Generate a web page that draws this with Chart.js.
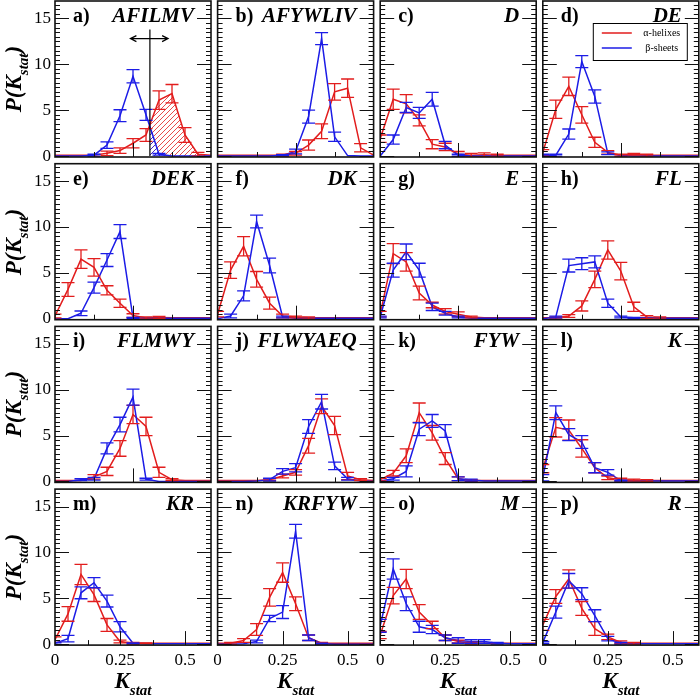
<!DOCTYPE html>
<html>
<head>
<meta charset="utf-8">
<script src="https://cdn.jsdelivr.net/npm/chart.js@4.4.0/dist/chart.umd.min.js"></script>
<style>
  html, body { margin: 0; padding: 0; background: #fff; }
  #wrap { position: relative; width: 700px; height: 695px; overflow: hidden; }
  #wrap canvas { position: absolute; left: 0; top: 0; }
  .ttl { position: absolute; font-family: "Times New Roman", "Liberation Serif", Times, serif; font-weight: bold; font-style: italic;
         font-size: 23px; white-space: nowrap; color: #000; line-height: 1; }
  .ttl span { font-size: 15px; position: relative; top: 7px; }
</style>
</head>
<body>
<div id="wrap"></div>
<script>
// K_stat bins
const kValues = [0, 0.05, 0.1, 0.15, 0.2, 0.25, 0.3, 0.35, 0.4, 0.45, 0.5, 0.55, 0.6];

const panelLetters = ["a)", "b)", "c)", "d)", "e)", "f)", "g)", "h)", "i)", "j)", "k)", "l)", "m)", "n)", "o)", "p)"];
const panelNames = ["AFILMV", "AFYWLIV", "D", "DE", "DEK", "DK", "E", "FL",
                    "FLMWY", "FLWYAEQ", "FYW", "K", "KR", "KRFYW", "M", "R"];

// alpha-helixes, one row per panel (a..p)
const helixVals = [
  [0.1, 0.1, 0.1, 0.1, 0.3, 0.6, 1.4, 2.3, 6.1, 6.8, 2.3, 0.2, 0.1],
  [0.1, 0.1, 0.1, 0.1, 0.1, 0.1, 0.3, 1.2, 2.7, 7.0, 7.4, 0.9, 0.1],
  [1.9, 6.2, 5.7, 3.9, 1.3, 1.0, 0.2, 0.1, 0.15, 0.1, 0.1, 0.1, 0.1],
  [0.4, 5.1, 7.6, 4.5, 1.5, 0.4, 0.1, 0.2, 0.1, 0.1, 0.1, 0.1, 0.1],
  [0.3, 3.2, 6.5, 5.6, 3.1, 1.7, 0.35, 0.1, 0.15, 0.1, 0.1, 0.1, 0.1],
  [0.5, 5.3, 7.9, 4.3, 1.7, 0.3, 0.2, 0.1, 0.1, 0.1, 0.1, 0.1, 0.1],
  [0.5, 7.1, 6.2, 2.8, 1.5, 0.8, 0.5, 0.2, 0.1, 0.1, 0.1, 0.1, 0.1],
  [0.1, 0.1, 0.3, 1.4, 4.3, 7.5, 5.2, 1.3, 0.2, 0.1, 0.1, 0.1, 0.1],
  [0.1, 0.1, 0.1, 0.5, 1.1, 3.6, 7.3, 6.0, 1.0, 0.2, 0.1, 0.1, 0.1],
  [0.1, 0.1, 0.1, 0.1, 0.2, 0.6, 1.0, 3.9, 8.2, 6.1, 0.6, 0.2, 0.1],
  [0.2, 0.9, 2.8, 7.5, 5.3, 2.5, 0.3, 0.1, 0.1, 0.1, 0.1, 0.1, 0.1],
  [1.4, 5.9, 5.6, 3.6, 1.5, 0.4, 0.2, 0.15, 0.1, 0.1, 0.1, 0.1, 0.1],
  [0.5, 3.3, 7.6, 5.4, 2.1, 0.3, 0.1, 0.1, 0.1, 0.1, 0.1, 0.1, 0.1],
  [0.1, 0.1, 0.4, 1.6, 5.1, 7.8, 4.4, 0.7, 0.1, 0.1, 0.1, 0.1, 0.1],
  [1.0, 5.3, 7.1, 3.5, 2.1, 0.7, 0.3, 0.1, 0.1, 0.1, 0.1, 0.1, 0.1],
  [2.1, 5.2, 7.1, 3.9, 1.7, 0.8, 0.2, 0.1, 0.1, 0.1, 0.1, 0.1, 0.1]
];
const helixErr = [
  [0, 0, 0, 0, 0.25, 0.3, 0.5, 0.7, 1.0, 1.0, 0.8, 0.2, 0],
  [0, 0, 0, 0, 0, 0.1, 0.2, 0.55, 0.8, 0.9, 1.0, 0.45, 0],
  [0.4, 1.1, 1.0, 0.6, 0.5, 0.4, 0.3, 0.2, 0.2, 0.1, 0, 0, 0],
  [0.3, 1.0, 1.0, 0.9, 0.55, 0.2, 0.1, 0.1, 0.1, 0, 0, 0, 0],
  [0.2, 0.75, 1.0, 0.95, 0.5, 0.45, 0.2, 0.1, 0.1, 0, 0, 0, 0],
  [0.3, 0.9, 1.05, 0.85, 0.65, 0.2, 0.1, 0.1, 0, 0, 0, 0, 0],
  [0.3, 1.1, 1.0, 0.75, 0.3, 0.3, 0.25, 0.1, 0, 0, 0, 0, 0],
  [0, 0.1, 0.15, 0.55, 0.9, 1.0, 0.95, 0.5, 0.15, 0.1, 0, 0, 0],
  [0, 0, 0, 0.25, 0.45, 0.85, 1.0, 1.0, 0.55, 0.1, 0, 0, 0],
  [0, 0, 0, 0, 0.1, 0.2, 0.3, 0.8, 0.8, 1.0, 0.4, 0.1, 0],
  [0.15, 0.3, 0.75, 1.05, 0.8, 0.65, 0.2, 0.1, 0, 0, 0, 0, 0],
  [0.45, 1.05, 1.1, 0.95, 0.55, 0.2, 0.15, 0.1, 0.1, 0, 0, 0, 0],
  [0.3, 0.8, 1.1, 0.75, 0.7, 0.15, 0.1, 0.05, 0, 0, 0, 0, 0],
  [0, 0.1, 0.2, 0.65, 0.95, 1.05, 0.75, 0.3, 0.1, 0, 0, 0, 0],
  [0.4, 0.9, 1.05, 0.8, 0.4, 0.3, 0.15, 0.1, 0, 0, 0, 0, 0],
  [0.6, 0.75, 1.0, 0.75, 0.75, 0.3, 0.15, 0.1, 0, 0, 0, 0, 0]
];

// beta-sheets, one row per panel (a..p)
const sheetVals = [
  [0, 0, 0, 0.1, 1.2, 4.4, 8.7, 4.5, 0.2, 0, 0, 0, 0],
  [0, 0, 0, 0, 0, 0.1, 0.5, 4.3, 12.8, 2.1, 0.05, 0, 0],
  [0, 1.8, 5.3, 4.7, 6.2, 1.2, 0.1, 0, 0, 0, 0, 0, 0],
  [0.1, 0.1, 2.4, 10.3, 6.5, 0.3, 0.05, 0, 0, 0, 0, 0, 0],
  [0, 0, 0.6, 3.4, 6.4, 9.5, 0.1, 0.05, 0.05, 0.05, 0.05, 0.05, 0.05],
  [0, 0.3, 2.5, 10.6, 5.8, 0.2, 0.05, 0.05, 0.05, 0.05, 0.05, 0.05, 0.05],
  [0.2, 5.3, 7.3, 5.3, 1.3, 0.6, 0.2, 0.05, 0.05, 0.05, 0.05, 0.05, 0.05],
  [0, 0.2, 5.8, 6.0, 6.2, 1.7, 0.2, 0.1, 0.1, 0.05, 0.05, 0.05, 0.05],
  [0, 0, 0.2, 0.3, 3.6, 6.2, 9.2, 0.25, 0, 0, 0, 0, 0],
  [0, 0, 0, 0.05, 0.2, 1.1, 1.5, 6.0, 8.7, 1.7, 0.3, 0.05, 0],
  [0.05, 0.3, 1.1, 5.7, 6.6, 5.5, 0.3, 0.15, 0.05, 0.05, 0.05, 0.05, 0.05],
  [0.4, 7.5, 5.1, 4.3, 1.5, 1.0, 0.1, 0.05, 0.05, 0.05, 0.05, 0.05, 0.05],
  [0.1, 0.6, 5.6, 6.7, 4.7, 1.9, 0.1, 0.05, 0.05, 0.05, 0.05, 0.05, 0.05],
  [0, 0, 0.05, 0.3, 2.8, 3.5, 12.3, 0.7, 0.05, 0, 0, 0, 0],
  [2.0, 8.2, 4.4, 1.9, 1.6, 0.7, 0.4, 0.3, 0.3, 0.1, 0.05, 0.05, 0.05],
  [0.2, 3.5, 6.9, 5.5, 3.1, 0.6, 0.1, 0.05, 0.05, 0.05, 0.05, 0.05, 0.05]
];
const sheetErr = [
  [0, 0, 0, 0.1, 0.35, 0.65, 0.72, 0.6, 0.1, 0, 0, 0, 0],
  [0, 0, 0, 0, 0, 0.05, 0.25, 0.7, 0.65, 0.5, 0, 0, 0],
  [0, 0.5, 0.55, 0.6, 0.75, 0.4, 0.1, 0, 0, 0, 0, 0, 0],
  [0.1, 0.1, 0.55, 0.65, 0.72, 0.15, 0, 0, 0, 0, 0, 0, 0],
  [0, 0, 0.25, 0.6, 0.7, 0.75, 0.05, 0, 0, 0, 0, 0, 0],
  [0, 0.2, 0.55, 0.7, 0.8, 0.1, 0, 0, 0, 0, 0, 0, 0],
  [0.1, 0.75, 0.85, 0.75, 0.4, 0.2, 0.1, 0, 0, 0, 0, 0, 0],
  [0, 0.1, 0.7, 0.65, 0.65, 0.45, 0.1, 0.05, 0, 0, 0, 0, 0],
  [0, 0, 0.1, 0.15, 0.6, 0.8, 0.87, 0.1, 0, 0, 0, 0, 0],
  [0, 0, 0, 0, 0.15, 0.3, 0.45, 0.75, 0.8, 0.4, 0.15, 0, 0],
  [0, 0.15, 0.6, 0.7, 0.7, 0.7, 0.2, 0.1, 0, 0, 0, 0, 0],
  [0.35, 0.75, 0.65, 0.7, 0.55, 0.3, 0.05, 0, 0, 0, 0, 0, 0],
  [0.1, 0.35, 0.65, 0.55, 0.65, 0.55, 0.05, 0, 0, 0, 0, 0, 0],
  [0, 0, 0, 0.15, 0.35, 0.7, 0.75, 0.3, 0.05, 0, 0, 0, 0],
  [0.7, 1.1, 0.75, 0.6, 0.45, 0.3, 0.3, 0.2, 0.2, 0.1, 0, 0, 0],
  [0.1, 0.65, 0.8, 0.65, 0.65, 0.25, 0.1, 0, 0, 0, 0, 0, 0]
];

// axes
const yTickLabels = [0, 5, 10, 15];
const xTickLabels = [0, 0.25, 0.5];           // bottom row only
const xTicksUpper = [0.15, 0.3, 0.45];         // rows 1-3
const xMajorUpper = [0.3];
const xTicksLower = [0.125, 0.25, 0.375, 0.5]; // bottom row
const xMajorLower = [0.25, 0.5];

// panel a) marker
const cutK = 0.365, cutTop = 13.8, arrowY = 12.8, arrowFrom = 0.29, arrowTo = 0.435;

const RED = "#e21d1d";
const BLUE = "#1c1ce6";
const W = 700, H = 695;
const PW = 156, PH = 156;
const colX = c => 55 + c * 162.6;
const rowY = r => 1 + r * 162.7;
const SERIF = "\"Times New Roman\", \"Liberation Serif\", Times, serif";

function hatch(ctx, color) {
  const c = document.createElement("canvas");
  c.width = 5; c.height = 5;
  const g = c.getContext("2d");
  g.strokeStyle = color; g.lineWidth = 0.8;
  g.beginPath();
  g.moveTo(0, 5); g.lineTo(5, 0);
  g.moveTo(-1, 1); g.lineTo(1, -1);
  g.moveTo(4, 6); g.lineTo(6, 4);
  g.stroke();
  return ctx.createPattern(c, "repeat");
}

const shading = {
  id: "shading",
  beforeDatasetsDraw(chart, args, opts) {
    if (!opts.on) return;
    const { ctx, chartArea: ca, scales: { x, y } } = chart;
    const cut = x.getPixelForValue(cutK), base = y.getPixelForValue(0);
    ctx.save();
    ctx.beginPath();
    ctx.rect(cut, ca.top, ca.right - cut, ca.bottom - ca.top);
    ctx.clip();
    chart.data.datasets.forEach((ds, i) => {
      const pts = chart.getDatasetMeta(i).data;
      ctx.beginPath();
      ctx.moveTo(pts[0].x, base);
      pts.forEach(p => ctx.lineTo(p.x, p.y));
      ctx.lineTo(pts[pts.length - 1].x, base);
      ctx.closePath();
      ctx.fillStyle = hatch(ctx, ds.borderColor);
      ctx.fill();
    });
    ctx.restore();
  },
  afterDraw(chart, args, opts) {
    if (!opts.on) return;
    const { ctx, scales: { x, y } } = chart;
    const cx = x.getPixelForValue(cutK);
    const ay = y.getPixelForValue(arrowY);
    const x1 = x.getPixelForValue(arrowFrom), x2 = x.getPixelForValue(arrowTo);
    ctx.save();
    ctx.strokeStyle = "#000"; ctx.lineWidth = 1.2;
    ctx.beginPath();
    ctx.moveTo(cx, y.getPixelForValue(0));
    ctx.lineTo(cx, y.getPixelForValue(cutTop));
    ctx.moveTo(x1, ay); ctx.lineTo(x2, ay);
    ctx.moveTo(x1 + 6, ay - 3); ctx.lineTo(x1, ay); ctx.lineTo(x1 + 6, ay + 3);
    ctx.moveTo(x2 - 6, ay - 3); ctx.lineTo(x2, ay); ctx.lineTo(x2 - 6, ay + 3);
    ctx.stroke();
    ctx.restore();
  }
};

const errorBars = {
  id: "errorBars",
  afterDatasetsDraw(chart) {
    const { ctx, chartArea: ca, scales: { y } } = chart;
    ctx.save();
    ctx.beginPath();
    ctx.rect(ca.left, ca.top, ca.right - ca.left, ca.bottom - ca.top);
    ctx.clip();
    ctx.lineWidth = 1.3;
    chart.data.datasets.forEach((ds, i) => {
      ctx.strokeStyle = ds.borderColor;
      chart.getDatasetMeta(i).data.forEach((pt, j) => {
        const e = ds.errors[j];
        if (!e) return;
        const v = ds.data[j].y;
        const t = y.getPixelForValue(v + e), b = y.getPixelForValue(v - e);
        ctx.beginPath();
        ctx.moveTo(pt.x, t); ctx.lineTo(pt.x, b);
        ctx.moveTo(pt.x - 6.5, t); ctx.lineTo(pt.x + 6.5, t);
        ctx.moveTo(pt.x - 6.5, b); ctx.lineTo(pt.x + 6.5, b);
        ctx.stroke();
      });
    });
    ctx.restore();
  }
};

const frame = {
  id: "frame",
  afterDraw(chart, args, o) {
    const { ctx, chartArea: ca, scales: { x, y } } = chart;
    ctx.save();
    ctx.strokeStyle = "#111";
    ctx.lineWidth = 1;
    ctx.beginPath();
    for (let v = 0; v <= 16.5; v += 0.5) {
      const py = Math.round(y.getPixelForValue(v)) + 0.5;
      const len = v % 5 === 0 ? 14 : 5;
      ctx.moveTo(ca.left, py); ctx.lineTo(ca.left + len, py);
      ctx.moveTo(ca.right, py); ctx.lineTo(ca.right - len, py);
    }
    const ticks = o.bottom ? xTicksLower : xTicksUpper;
    const majors = o.bottom ? xMajorLower : xMajorUpper;
    ticks.forEach(t => {
      const px = Math.round(x.getPixelForValue(t)) + 0.5;
      ctx.moveTo(px, ca.bottom);
      ctx.lineTo(px, ca.bottom - (majors.includes(t) ? 14 : 5));
    });
    ctx.stroke();
    ctx.lineWidth = 1.6;
    ctx.strokeRect(ca.left, ca.top, ca.right - ca.left, ca.bottom - ca.top);

    ctx.fillStyle = "#000";
    if (o.left) {
      ctx.font = "17px " + SERIF;
      ctx.textAlign = "right"; ctx.textBaseline = "middle";
      yTickLabels.forEach(v => ctx.fillText(String(v), ca.left - 4, y.getPixelForValue(v)));
    }
    if (o.bottom) {
      ctx.font = "17px " + SERIF;
      ctx.textAlign = "center"; ctx.textBaseline = "middle";
      xTickLabels.forEach(v => ctx.fillText(String(v), x.getPixelForValue(v), ca.bottom + 15));
    }

    if (o.legend) {
      const bx = ca.left + 50, by = ca.top + 22, bw = 94, bh = 37;
      ctx.fillStyle = "#fff";
      ctx.fillRect(bx, by, bw, bh);
      ctx.lineWidth = 1;
      ctx.strokeStyle = "#000";
      ctx.strokeRect(bx + 0.5, by + 0.5, bw, bh);
      ctx.font = "10px " + SERIF;
      ctx.textAlign = "center"; ctx.textBaseline = "middle";
      chart.data.datasets.forEach((ds, i) => {
        const ly = by + 10 + i * 15;
        ctx.strokeStyle = ds.borderColor; ctx.lineWidth = 1.5;
        ctx.beginPath(); ctx.moveTo(bx + 9, ly); ctx.lineTo(bx + 39, ly); ctx.stroke();
        ctx.fillStyle = "#000";
        ctx.fillText(ds.label, bx + 69, ly);
      });
    }

    ctx.fillStyle = "#000";
    ctx.textBaseline = "alphabetic";
    ctx.textAlign = "left";
    ctx.font = "bold 20px " + SERIF;
    ctx.fillText(o.letter, ca.left + 18, ca.top + 21);
    ctx.textAlign = "right";
    ctx.font = "italic bold 21px " + SERIF;
    ctx.fillText(o.name, ca.right - 17, ca.top + 21);
    ctx.restore();
  }
};

const wrap = document.getElementById("wrap");

panelNames.forEach((name, p) => {
  const r = Math.floor(p / 4), c = p % 4;
  const x0 = colX(c), y0 = rowY(r);
  const cv = document.createElement("canvas");
  cv.width = W; cv.height = H;
  wrap.appendChild(cv);
  new Chart(cv, {
    type: "line",
    data: {
      datasets: [
        { label: "α-helixes", data: kValues.map((k, i) => ({ x: k, y: helixVals[p][i] })),
          errors: helixErr[p], borderColor: RED, borderWidth: 1.5, pointRadius: 0, order: 1 },
        { label: "β-sheets", data: kValues.map((k, i) => ({ x: k, y: sheetVals[p][i] })),
          errors: sheetErr[p], borderColor: BLUE, borderWidth: 1.5, pointRadius: 0, order: 0 }
      ]
    },
    options: {
      responsive: false,
      animation: false,
      events: [],
      layout: { padding: { left: x0, top: y0, right: W - x0 - PW, bottom: H - y0 - PH } },
      scales: {
        x: { type: "linear", min: 0, max: 0.6, display: false },
        y: { type: "linear", min: -0.1, max: 16.9, display: false }
      },
      plugins: {
        legend: { display: false },
        tooltip: { enabled: false },
        shading: { on: p === 0 },
        frame: { left: c === 0, bottom: r === 3, letter: panelLetters[p], name: name, legend: p === 3 }
      }
    },
    plugins: [shading, errorBars, frame]
  });
});

// axis titles
for (let r = 0; r < 4; r++) {
  const d = document.createElement("div");
  d.className = "ttl";
  d.innerHTML = "P(K<span>stat</span>)";
  d.style.left = "13px";
  d.style.top = (rowY(r) + PH / 2) + "px";
  d.style.transform = "translate(-50%, -50%) rotate(-90deg)";
  wrap.appendChild(d);
}
for (let c = 0; c < 4; c++) {
  const d = document.createElement("div");
  d.className = "ttl";
  d.innerHTML = "K<span>stat</span>";
  d.style.left = (colX(c) + PW / 2) + "px";
  d.style.top = "680px";
  d.style.transform = "translate(-50%, -50%)";
  wrap.appendChild(d);
}
</script>
</body>
</html>
